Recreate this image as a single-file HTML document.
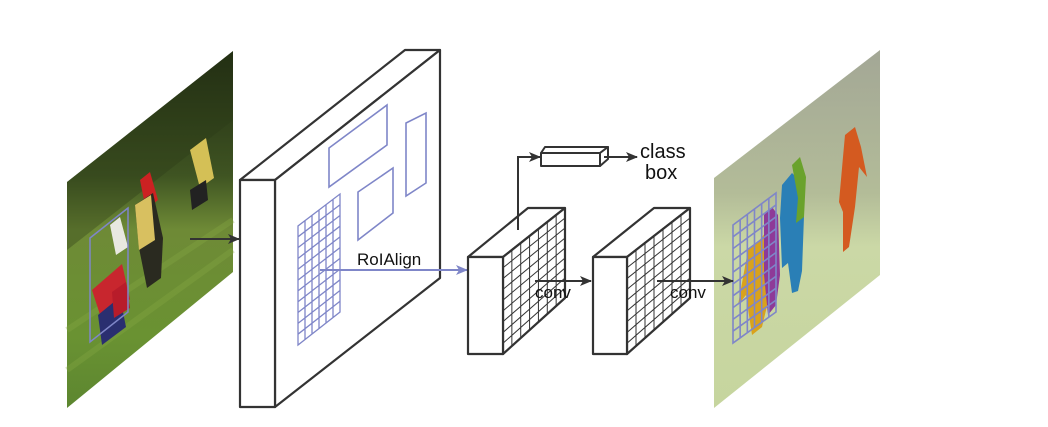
<!DOCTYPE html>
<html><head><meta charset="utf-8"><style>
html,body{margin:0;padding:0;background:#fff;width:1048px;height:427px;overflow:hidden}
svg{display:block}
text{font-family:"Liberation Sans",sans-serif;fill:#111}
</style></head><body>
<svg id="s" width="1048" height="427" viewBox="0 0 1048 427" xmlns="http://www.w3.org/2000/svg">
<defs>
<linearGradient id="g1" x1="0" y1="0" x2="0" y2="1">
<stop offset="0" stop-color="#1f2a12"/><stop offset="0.35" stop-color="#3f5422"/><stop offset="0.5" stop-color="#6e8a36"/><stop offset="0.8" stop-color="#6a9232"/><stop offset="1" stop-color="#5c8630"/></linearGradient>
<linearGradient id="g2" x1="0" y1="0" x2="0" y2="1">
<stop offset="0" stop-color="#a3a796"/><stop offset="0.4" stop-color="#b3bc98"/><stop offset="0.55" stop-color="#cbd8a6"/><stop offset="1" stop-color="#c6d59e"/></linearGradient>
<marker id="ab" markerWidth="12" markerHeight="10" refX="11" refY="5" orient="auto" markerUnits="userSpaceOnUse"><path d="M0,0 L12,5 L0,10 L3,5z" fill="#333"/></marker>
<marker id="ap" markerWidth="12" markerHeight="10" refX="11" refY="5" orient="auto" markerUnits="userSpaceOnUse"><path d="M0,0 L12,5 L0,10 L3,5z" fill="#7f86c8"/></marker>
</defs>

<g>
<polygon points="67,182 233,51 233,272 67,408" fill="url(#g1)"/>
<polygon points="67,182 233,51 233,120 67,250" fill="#2a3a18" opacity="0.35"/>
<path d="M67,330 L233,220 M67,370 L233,250" stroke="#86a844" stroke-width="6" opacity="0.35"/>
<path d="M110,225 l10,-8 l8,30 l-12,8z" fill="#e8e8e0"/>
<path d="M140,180 l10,-8 l8,28 l-12,10z" fill="#c22"/>
<path d="M135,205 l18,-12 l10,45 l-2,40 l-14,10 l-8,-40z" fill="#2a2a20"/>
<path d="M135,205 l16,-10 l4,45 l-16,10z" fill="#d8c060"/>
<path d="M190,150 l16,-12 l8,40 l-14,10z" fill="#d4c056"/>
<path d="M190,190 l16,-10 l2,20 l-16,10z" fill="#222"/>
<path d="M92,290 l30,-26 l8,35 l-26,28z" fill="#c8262e"/>
<path d="M98,315 l22,-18 l6,30 l-24,18z" fill="#2a2f70"/>
<path d="M112,292 l14,-10 l4,26 l-16,10z" fill="#b81c2a"/>
<polygon points="90,238 128,208 128,312 90,342" fill="none" stroke="#7f86c8" stroke-width="1.5"/>
</g>
<line x1="190" y1="239" x2="239" y2="239" stroke="#333" stroke-width="2" marker-end="url(#ab)"/>

<g fill="#fff" stroke="#333" stroke-width="2.2" stroke-linejoin="round">
<polygon points="240,180 405,50 440,50 275,180"/>
<polygon points="275,180 440,50 440,278 275,407"/>
<rect x="240" y="180" width="35" height="227"/>
</g>
<g fill="none" stroke="#7f86c8" stroke-width="1.6">
<polygon points="329,187 329,148 387,105 387,145"/>
<polygon points="358,240 358,192 393,168 393,213"/>
<polygon points="406,196 406,123 426,113 426,183"/>
</g>
<g id="roigrid" stroke="#7f86c8" stroke-width="1.3" fill="none"></g>
<line x1="320" y1="270" x2="467" y2="270" stroke="#7f86c8" stroke-width="2" marker-end="url(#ap)"/>
<text x="357" y="265" font-size="17">RoIAlign</text>

<g fill="#fff" stroke="#333" stroke-width="2.2" stroke-linejoin="round">
<polygon points="468,257 528,208 565,208 503,257"/>
<polygon points="503,257 565,208 565,298 503,354"/>
<rect x="468" y="257" width="35" height="97"/>
</g>
<g id="grid1" stroke="#333" stroke-width="1" fill="none"></g>
<g fill="#fff" stroke="#333" stroke-width="2.2" stroke-linejoin="round">
<polygon points="593,257 654,208 690,208 627,257"/>
<polygon points="627,257 690,208 690,298 627,354"/>
<rect x="593" y="257" width="34" height="97"/>
</g>
<g id="grid2" stroke="#333" stroke-width="1" fill="none"></g>

<polyline points="518,230 518,157 540,157" fill="none" stroke="#333" stroke-width="2" marker-end="url(#ab)"/>
<g fill="#fff" stroke="#333" stroke-width="2" stroke-linejoin="round">
<polygon points="541,153 545,147 608,147 600,153"/>
<polygon points="600,153 608,147 608,159 600,166"/>
<rect x="541" y="153" width="59" height="13"/>
</g>
<line x1="604" y1="157" x2="637" y2="157" stroke="#333" stroke-width="2" marker-end="url(#ab)"/>
<text x="640" y="158" font-size="20">class</text>
<text x="645" y="179" font-size="20">box</text>

<line x1="535" y1="281" x2="591" y2="281" stroke="#333" stroke-width="2" marker-end="url(#ab)"/>
<text x="535" y="298" font-size="17">conv</text>
<text x="670" y="298" font-size="17">conv</text>

<g>
<polygon points="714,178 880,50 880,275 714,408" fill="url(#g2)"/>
<path d="M748,250 l10,-8 l8,-10 l6,25 l-4,45 l-6,25 l-10,8 l-6,-40 l-8,10z" fill="#d9a21c"/>
<path d="M764,215 l8,-8 l6,8 l2,60 l-4,30 l-8,10 l-4,-40z" fill="#8e3a98"/>
<path d="M782,185 l10,-12 l8,8 l4,35 l-2,55 l-4,20 l-6,2 l-4,-30 l-6,5 l-2,-50z" fill="#2a7fb6"/>
<path d="M792,165 l8,-8 l6,20 l-2,40 l-8,6 l2,-25z" fill="#6aa22c"/>
<path d="M845,135 l10,-8 l6,20 l6,30 l-8,-10 l-4,40 l-6,40 l-6,5 l0,-40 l-4,-10 l4,-45z" fill="#d45a20"/>
</g>
<g id="outgrid" stroke="#7f86c8" stroke-width="1.6" fill="none"></g>
<line x1="657" y1="281" x2="733" y2="281" stroke="#333" stroke-width="2" marker-end="url(#ab)"/>
</svg>
<script>
function grid(id,x0,x1,yt0,yb0,yt1,yb1,nc,nr){
  var g=document.getElementById(id),ns="http://www.w3.org/2000/svg",s="";
  s+="M"+x0+","+yt0+"L"+x0+","+yb0+"L"+x1+","+yb1+"L"+x1+","+yt1+"Z";
  for(var i=1;i<nc;i++){var t=i/nc,x=x0+(x1-x0)*t;s+="M"+x+","+(yt0+(yt1-yt0)*t)+"L"+x+","+(yb0+(yb1-yb0)*t);}
  for(var j=1;j<nr;j++){var u=j/nr;s+="M"+x0+","+(yt0+(yb0-yt0)*u)+"L"+x1+","+(yt1+(yb1-yt1)*u);}
  var p=document.createElementNS(ns,"path");p.setAttribute("d",s);
  
  
  g.appendChild(p);
}
grid("roigrid",298,340,226,345,194,312,6,11);
grid("grid1",503,565,257,354,208,298,7,9);
grid("grid2",627,690,257,354,208,298,7,9);
grid("outgrid",733,776,225,343,193,312,6,10);
</script>
</body></html>
